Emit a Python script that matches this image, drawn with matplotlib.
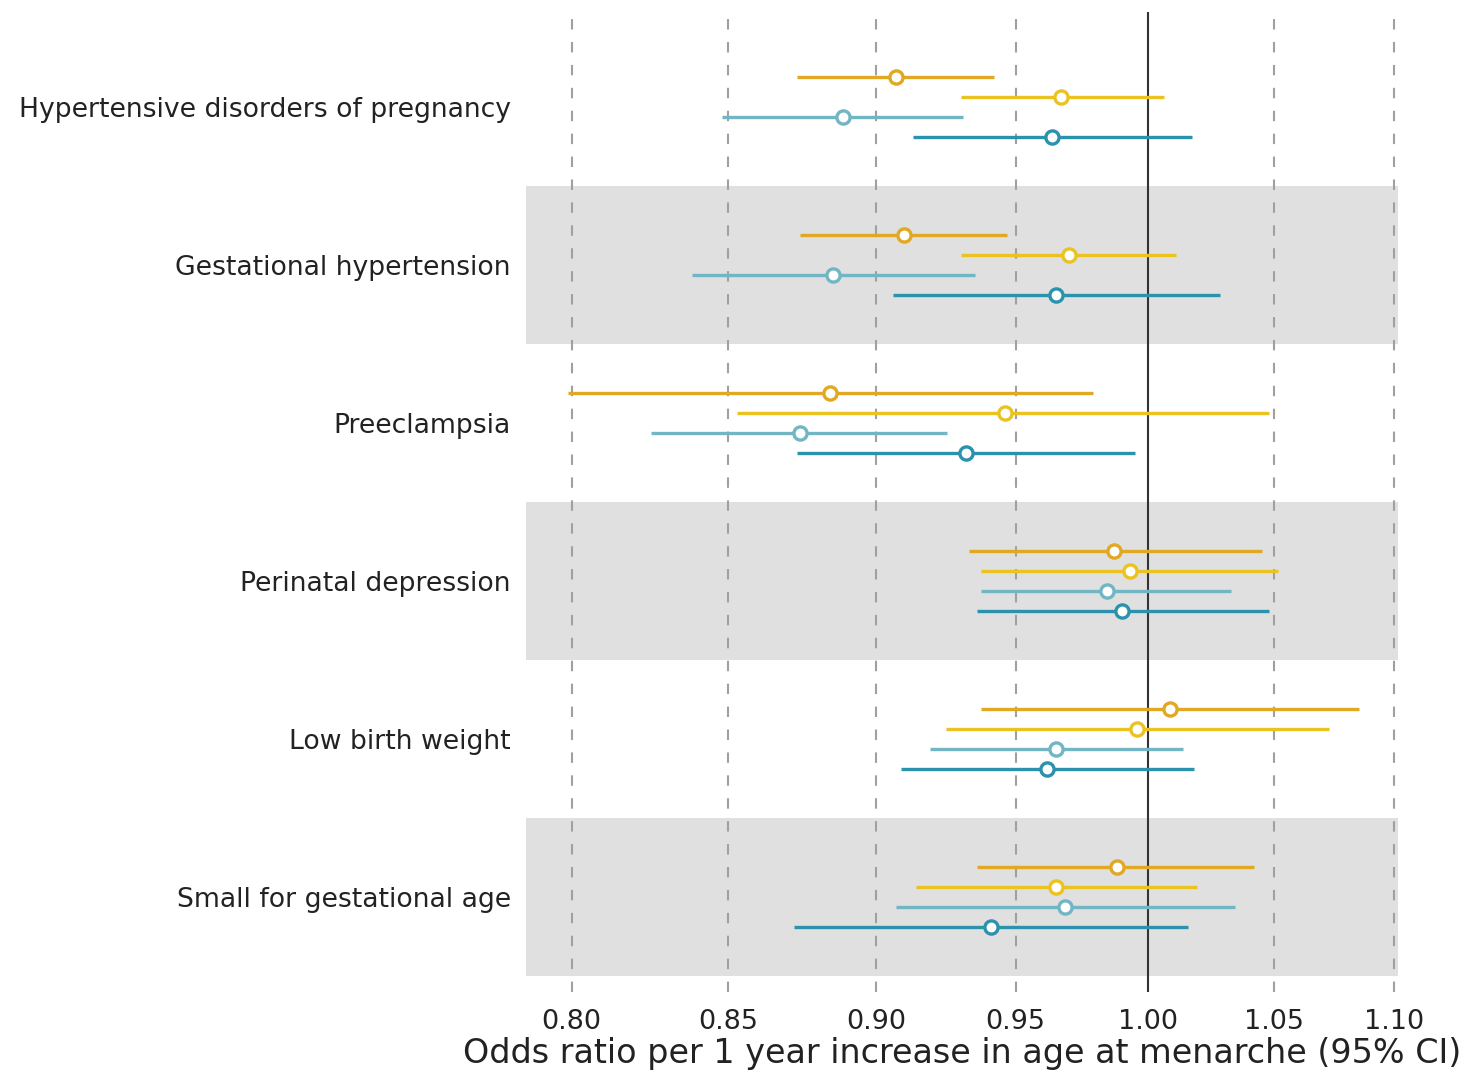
import numpy as np
import matplotlib.pyplot as plt

outcomes = ["Hypertensive disorders of pregnancy", "Gestational hypertension",
            "Preeclampsia", "Perinatal depression", "Low birth weight",
            "Small for gestational age"]

# four estimates per outcome (top to bottom within each row)
series_colors = ["#E0A823", "#EBC321", "#72B6C6", "#2A92AD"]

or_est = [
    [0.907, 0.967, 0.8885, 0.9636],
    [0.910, 0.970, 0.885, 0.965],
    [0.884, 0.946, 0.874, 0.932],
    [0.987, 0.993, 0.984, 0.990],
    [1.0085, 0.9958, 0.965, 0.9617],
    [0.988, 0.965, 0.9685, 0.941],
]
ci_lo = [
    [0.873, 0.930, 0.848, 0.913],
    [0.874, 0.930, 0.838, 0.906],
    [0.799, 0.853, 0.825, 0.873],
    [0.933, 0.9375, 0.9375, 0.936],
    [0.9375, 0.9246, 0.919, 0.9086],
    [0.936, 0.914, 0.907, 0.872],
]
ci_hi = [
    [0.942, 1.006, 0.931, 1.017],
    [0.947, 1.011, 0.935, 1.028],
    [0.979, 1.048, 0.925, 0.995],
    [1.045, 1.0515, 1.0326, 1.048],
    [1.085, 1.0724, 1.0136, 1.018],
    [1.042, 1.019, 1.034, 1.0156],
]

xticks = [0.80, 0.85, 0.90, 0.95, 1.00, 1.05, 1.10]

fig = plt.figure(figsize=(14.68, 10.71), dpi=100)
ax = fig.add_axes([0.3583, 0.0738, 0.5940, 0.9150])

step = 0.1266
offsets = np.array([-1.5, -0.5, 0.5, 1.5]) * step

for i in range(len(outcomes)):
    if i % 2 == 1:
        ax.axhspan(i - 0.5, i + 0.5, color="#E0E0E0", zorder=0, lw=0)
    for j in range(4):
        y = i + offsets[j]
        c = series_colors[j]
        ax.hlines(y, ci_lo[i][j], ci_hi[i][j], color=c, lw=2.4, zorder=3)
        ax.plot(or_est[i][j], y, "o", ms=9.5, mfc="white", mec=c, mew=2.4, zorder=4)

for t in xticks:
    if t != 1.00:
        ax.axvline(t, color="#a0a0a0", ls=(0, (5, 6)), lw=1.5, zorder=1)
ax.axvline(1.0, color="#333333", lw=1.5, zorder=2)

ax.set_xscale("log")
ax.set_xlim(0.786, 1.1015)
ax.set_ylim(5.601, -0.601)
ax.set_xticks(xticks)
ax.set_xticklabels([f"{t:.2f}" for t in xticks])
ax.minorticks_off()
ax.set_yticks(range(len(outcomes)))
ax.set_yticklabels(outcomes)
ax.tick_params(axis="y", length=0, pad=11, labelsize=19.2, colors="#222222")
ax.tick_params(axis="x", length=0, pad=12, labelsize=19.5, colors="#222222")
ax.set_xlabel("Odds ratio per 1 year increase in age at menarche (95% CI)",
              fontsize=24, color="#222222", labelpad=2)
for s in ax.spines.values():
    s.set_visible(False)

fig.savefig("out.png", dpi=100)
